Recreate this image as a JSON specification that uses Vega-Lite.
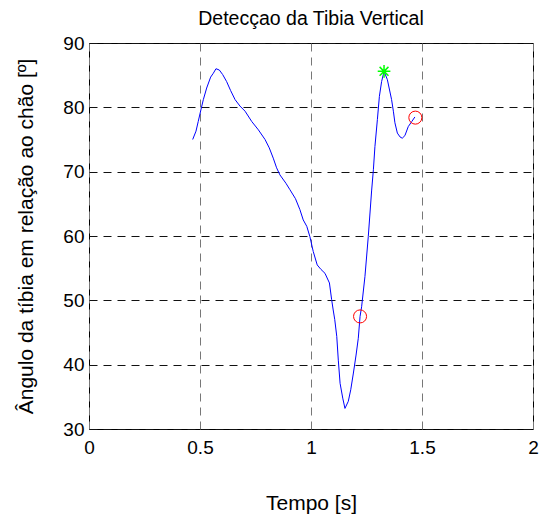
{
  "$schema": "https://vega.github.io/schema/vega-lite/v6.json",
  "autosize": {"type": "none"},
  "padding": {"left": 89, "top": 43, "right": 6, "bottom": 90},
  "width": 444,
  "height": 386,
  "background": "white",
  "config": {
    "font": "Liberation Sans",
    "view": {"stroke": "#000", "strokeWidth": 1},
    "axis": {"labelFont": "Liberation Sans", "titleFont": "Liberation Sans", "labelColor": "#000", "titleColor": "#000", "titleFontWeight": "normal"}
  },
  "title": {"text": "Detecçao da Tibia Vertical", "fontSize": 19.5, "fontWeight": "normal", "font": "Liberation Sans", "color": "#000", "offset": 5},
  "datasets": {
    "curve": [
      {"t": 0.467, "a": 75.0}, {"t": 0.482, "a": 76.3}, {"t": 0.492, "a": 77.8}, {"t": 0.504, "a": 79.6},
      {"t": 0.515, "a": 81.2}, {"t": 0.530, "a": 83.0}, {"t": 0.548, "a": 84.7}, {"t": 0.560, "a": 85.3},
      {"t": 0.572, "a": 86.0}, {"t": 0.587, "a": 85.8}, {"t": 0.602, "a": 85.1}, {"t": 0.620, "a": 84.0},
      {"t": 0.638, "a": 82.6}, {"t": 0.658, "a": 81.2}, {"t": 0.680, "a": 80.2}, {"t": 0.703, "a": 79.4},
      {"t": 0.733, "a": 77.8}, {"t": 0.763, "a": 76.5}, {"t": 0.793, "a": 75.0}, {"t": 0.812, "a": 73.7},
      {"t": 0.830, "a": 72.1}, {"t": 0.845, "a": 70.6}, {"t": 0.860, "a": 69.5}, {"t": 0.887, "a": 68.2},
      {"t": 0.905, "a": 67.2}, {"t": 0.930, "a": 65.8}, {"t": 0.950, "a": 64.1}, {"t": 0.965, "a": 62.5},
      {"t": 0.981, "a": 61.5}, {"t": 0.995, "a": 59.9}, {"t": 1.010, "a": 57.6}, {"t": 1.028, "a": 55.5},
      {"t": 1.045, "a": 54.8}, {"t": 1.063, "a": 54.2}, {"t": 1.083, "a": 52.7}, {"t": 1.093, "a": 50.1},
      {"t": 1.100, "a": 48.5}, {"t": 1.107, "a": 47.0}, {"t": 1.116, "a": 44.4}, {"t": 1.123, "a": 40.7},
      {"t": 1.131, "a": 37.1}, {"t": 1.143, "a": 34.8}, {"t": 1.153, "a": 33.2}, {"t": 1.168, "a": 34.3},
      {"t": 1.179, "a": 36.1}, {"t": 1.191, "a": 38.7}, {"t": 1.203, "a": 41.5}, {"t": 1.213, "a": 44.1},
      {"t": 1.221, "a": 47.5}, {"t": 1.228, "a": 49.0}, {"t": 1.243, "a": 53.7}, {"t": 1.258, "a": 59.9},
      {"t": 1.273, "a": 67.0}, {"t": 1.281, "a": 70.3}, {"t": 1.288, "a": 73.9}, {"t": 1.299, "a": 78.1},
      {"t": 1.308, "a": 81.7}, {"t": 1.318, "a": 84.0}, {"t": 1.329, "a": 85.6}, {"t": 1.344, "a": 84.3},
      {"t": 1.363, "a": 81.2}, {"t": 1.371, "a": 79.4}, {"t": 1.378, "a": 77.6}, {"t": 1.389, "a": 76.0},
      {"t": 1.401, "a": 75.4}, {"t": 1.411, "a": 75.2}, {"t": 1.423, "a": 75.6}, {"t": 1.438, "a": 77.0},
      {"t": 1.454, "a": 77.8}, {"t": 1.468, "a": 78.5}
    ],
    "circles": [{"t": 1.221, "a": 47.5}, {"t": 1.470, "a": 78.4}],
    "star": [{"t": 1.329, "a": 85.6}]
  },
  "encoding": {
    "x": {
      "field": "t", "type": "quantitative",
      "scale": {"domain": [0, 2], "nice": false, "zero": false},
      "axis": {
        "title": "Tempo [s]", "titleFontSize": 21, "titlePadding": 35,
        "values": [0, 0.5, 1, 1.5, 2], "format": "~g",
        "labelFontSize": 19, "labelPadding": 9, "labelFlush": false,
        "ticks": false, "domain": false,
        "grid": true, "gridColor": "#777", "gridDash": [8, 6], "gridWidth": 1, "gridOpacity": 1
      }
    },
    "y": {
      "field": "a", "type": "quantitative",
      "scale": {"domain": [30, 90], "nice": false, "zero": false},
      "axis": {
        "title": "Ângulo da tíbia em relação ao chão [º]", "titleFontSize": 21, "titlePadding": 26,
        "values": [30, 40, 50, 60, 70, 80, 90],
        "labelFontSize": 19, "labelPadding": 5, "labelFlush": false,
        "ticks": false, "domain": false,
        "grid": true, "gridColor": "#111", "gridDash": [8, 6], "gridWidth": 1, "gridOpacity": 1
      }
    }
  },
  "layer": [
    {"data": {"name": "curve"}, "mark": {"type": "line", "color": "#0000ff", "strokeWidth": 1, "interpolate": "linear"}},
    {"data": {"name": "circles"}, "mark": {"type": "point", "shape": "circle", "filled": false, "color": "#ff0000", "size": 170, "strokeWidth": 1, "opacity": 1}},
    {"data": {"name": "star"}, "mark": {"type": "point", "shape": "M-1,0L1,0M0,-1L0,1M-0.7,-0.7L0.7,0.7M-0.7,0.7L0.7,-0.7", "filled": false, "color": "#00ff00", "size": 160, "strokeWidth": 1.5, "opacity": 1}}
  ]
}
